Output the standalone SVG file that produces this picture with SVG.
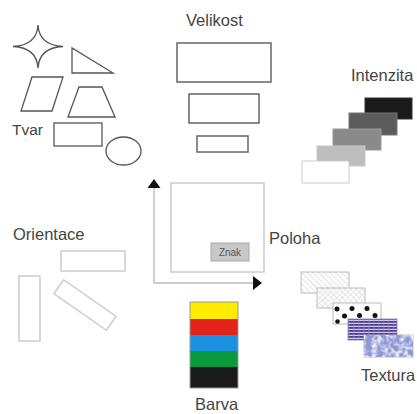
<svg xmlns="http://www.w3.org/2000/svg" width="417" height="414" viewBox="0 0 417 414">
<style>
.lbl{font-family:"Liberation Sans",Arial,sans-serif;font-size:16.5px;fill:#444}
.shp{fill:#fff;stroke:#555;stroke-width:1.3}
.siz{fill:#fff;stroke:#666;stroke-width:1.5}
.ori{fill:#fff;stroke:#ccc;stroke-width:1.5}
.axis{stroke:#bbb;stroke-width:1.3;fill:none}
.tex{stroke:#bbb;stroke-width:1}
</style>
<defs>
<pattern id="hatch" width="4" height="4" patternUnits="userSpaceOnUse" patternTransform="rotate(-45)">
<rect width="4" height="4" fill="#fff"/><line x1="0" y1="0" x2="0" y2="4" stroke="#c4c4c4" stroke-width="1"/>
</pattern>
<pattern id="cross" width="4" height="4" patternUnits="userSpaceOnUse" patternTransform="rotate(45)">
<rect width="4" height="4" fill="#fff"/><line x1="0" y1="0" x2="0" y2="4" stroke="#c4c4c4" stroke-width="0.8"/><line x1="0" y1="0" x2="4" y2="0" stroke="#c4c4c4" stroke-width="0.8"/>
</pattern>
<pattern id="stripes" width="5" height="3" patternUnits="userSpaceOnUse">
<rect width="5" height="3" fill="#4a3b8e"/><rect y="1.8" width="5" height="1.2" fill="#d8cff0"/><rect x="3.5" width="0.8" height="3" fill="#9a8cc8" opacity="0.8"/>
</pattern>
<filter id="mottle" x="0" y="0" width="100%" height="100%">
<feTurbulence type="fractalNoise" baseFrequency="0.18" numOctaves="2" seed="4"/>
<feColorMatrix values="0 0 0 0 0.86 0 0 0 0 0.88 0 0 0 0 0.98 0 0 0 -3 1.8"/>
<feComposite in2="SourceGraphic" operator="in"/>
</filter>
</defs>

<g id="tvar">
<path class="shp" d="M38,25 Q39.2,45.3 63,46.5 Q39.2,47.7 38,68 Q36.8,47.7 13,46.5 Q36.8,45.3 38,25 Z"/>
<polygon class="shp" points="72,48 72,73 113,73"/>
<polygon class="shp" points="32,77 63,77 52,111 21,111"/>
<polygon class="shp" points="79,87 102,87 115,117 68,117"/>
<rect class="shp" x="54" y="123" width="48" height="23"/>
<ellipse class="shp" cx="123.5" cy="151" rx="17.5" ry="14"/>
<text class="lbl" x="12" y="135" style="font-size:15.5px">Tvar</text>
</g>

<g id="velikost">
<text class="lbl" x="186" y="26">Velikost</text>
<rect class="siz" x="177" y="43" width="94" height="39"/>
<rect class="siz" x="189" y="94" width="70" height="29"/>
<rect class="siz" x="197" y="136" width="51" height="16"/>
</g>

<g id="intenzita">
<text class="lbl" x="351" y="81">Intenzita</text>
<rect x="365" y="98" width="47" height="21" fill="#1a1a1a" stroke="#333"/>
<rect x="349" y="113" width="48" height="22" fill="#5c5c5c" stroke="#777"/>
<rect x="333" y="129" width="48" height="21" fill="#8a8a8a" stroke="#999"/>
<rect x="317" y="146" width="48" height="20" fill="#bdbdbd" stroke="#c8c8c8"/>
<rect x="302" y="161" width="47" height="22" fill="#fff" stroke="#ccc"/>
</g>

<g id="orientace">
<text class="lbl" x="13" y="240">Orientace</text>
<rect class="ori" x="61" y="251" width="64" height="20"/>
<rect class="ori" x="19" y="276" width="21" height="65"/>
<rect class="ori" x="53" y="296.5" width="64" height="17" transform="rotate(35 85 305)"/>
</g>

<g id="connectors">
<polyline class="axis" points="154,188 154,283 254,283"/>
<polygon points="154,179 147.5,188 160.5,188" fill="#111"/>
<polygon points="262,283 253,276 253,290" fill="#111"/>
</g>

<g id="poloha">
<rect x="171" y="183" width="93" height="89" fill="#fff" stroke="#ccc" stroke-width="1.5"/>
<text class="lbl" x="269" y="244">Poloha</text>
</g>

<g id="znak">
<rect x="211" y="243" width="38" height="18" fill="#c8c8c8" stroke="#aaa" stroke-width="1"/>
<text x="230" y="256" text-anchor="middle" style="font-family:'Liberation Sans',Arial,sans-serif;font-size:10px;fill:#555">Znak</text>
</g>

<g id="barva">
<rect x="190" y="302" width="48" height="17" fill="#ffec00"/>
<rect x="190" y="319" width="48" height="16" fill="#e3231b"/>
<rect x="190" y="335" width="48" height="16" fill="#1b8fe0"/>
<rect x="190" y="351" width="48" height="16" fill="#0a9a3c"/>
<rect x="190" y="367" width="48" height="21" fill="#1a1a1a"/>
<rect x="190" y="302" width="48" height="86" fill="none" stroke="#999" stroke-width="1"/>
<text class="lbl" x="195" y="410">Barva</text>
</g>

<g id="textura">
<rect class="tex" x="301" y="272" width="48" height="21" fill="url(#hatch)"/>
<rect class="tex" x="317" y="288" width="48" height="20" fill="url(#cross)"/>
<rect class="tex" x="333" y="303" width="48" height="21" fill="#fff"/>
<g fill="#111">
<circle cx="337" cy="309" r="2.5"/><circle cx="352" cy="308.5" r="2.5"/><circle cx="367" cy="308.5" r="2.5"/>
<circle cx="344.5" cy="316" r="2.5"/><circle cx="359.5" cy="315.5" r="2.5"/><circle cx="375" cy="315.5" r="2.5"/>
<circle cx="337.5" cy="321.5" r="2.3"/>
</g>
<rect x="348" y="319" width="49" height="21" fill="url(#stripes)" stroke="#8a80c0" stroke-width="0.8"/>
<rect x="364" y="335" width="49" height="22" fill="#8e96d4" stroke="#aab" stroke-width="0.8"/>
<rect x="364" y="335" width="49" height="22" fill="#fff" filter="url(#mottle)"/>
<text class="lbl" x="361" y="381">Textura</text>
</g>
</svg>
